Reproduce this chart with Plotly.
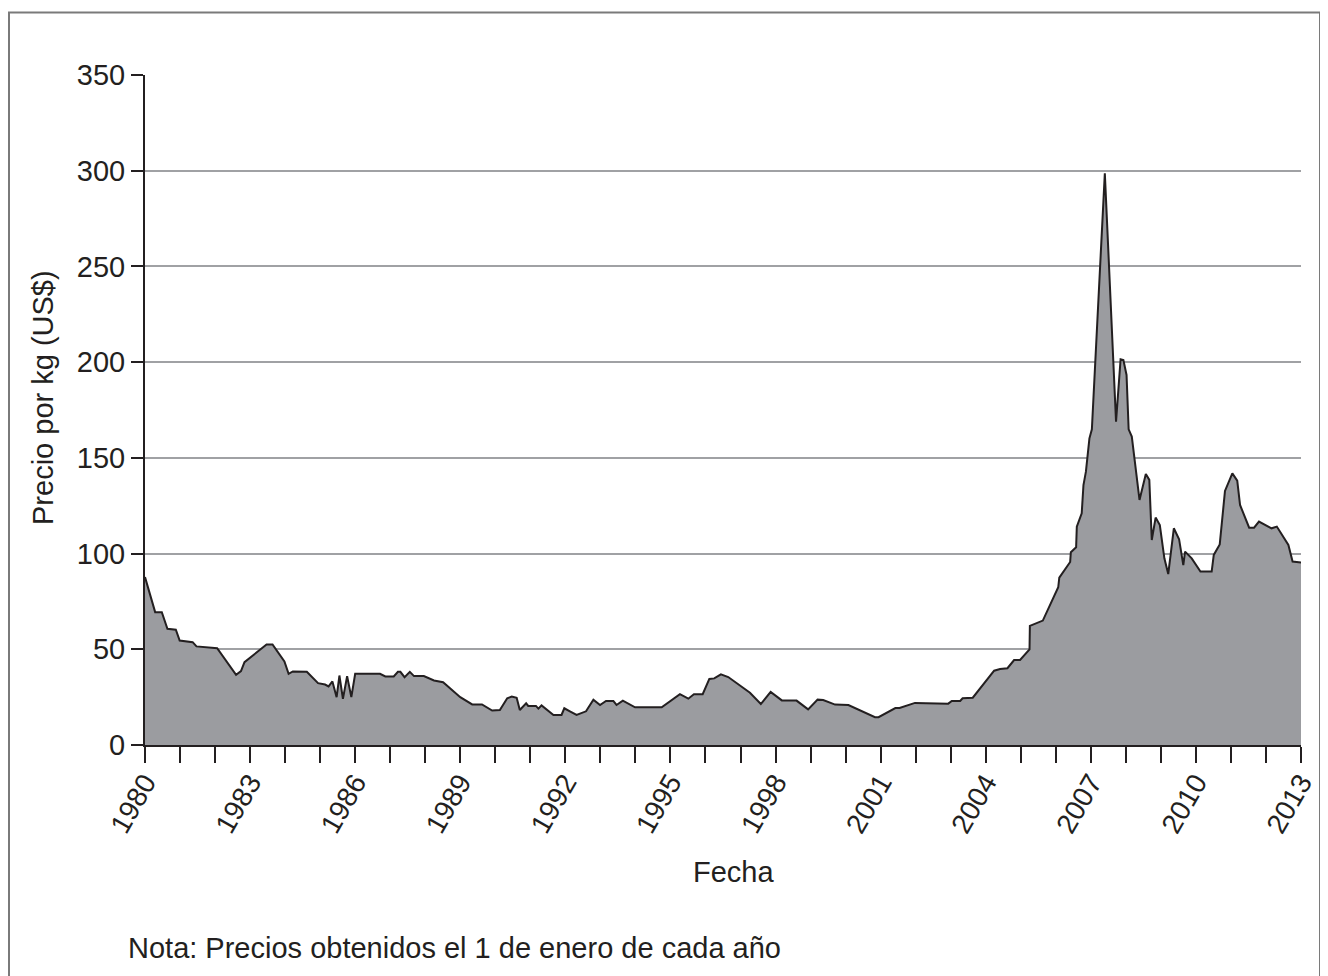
import plotly.graph_objects as go

# Data (decimal year, price per kg in US$)
years = [
    1980.00, 1980.29, 1980.48, 1980.64, 1980.88, 1980.99, 1981.36, 1981.47, 1982.06, 1982.60,
    1982.74, 1982.84, 1983.47, 1983.64, 1983.98, 1984.10, 1984.22, 1984.62, 1984.94, 1985.14,
    1985.24, 1985.35, 1985.47, 1985.55, 1985.65, 1985.77, 1985.89, 1986.00, 1986.71, 1986.86,
    1987.10, 1987.22, 1987.29, 1987.41, 1987.56, 1987.68, 1987.96, 1988.25, 1988.51, 1989.00,
    1989.34, 1989.62, 1989.91, 1990.13, 1990.34, 1990.47, 1990.61, 1990.70, 1990.88, 1990.94,
    1991.16, 1991.23, 1991.32, 1991.66, 1991.89, 1991.97, 1992.13, 1992.32, 1992.59, 1992.80,
    1992.99, 1993.16, 1993.37, 1993.46, 1993.64, 1993.99, 1994.75, 1995.27, 1995.51, 1995.67,
    1995.92, 1996.11, 1996.25, 1996.44, 1996.65, 1997.27, 1997.58, 1997.86, 1998.18, 1998.60,
    1998.93, 1999.20, 1999.36, 1999.70, 2000.08, 2000.84, 2000.94, 2001.42, 2001.54, 2001.98,
    2002.93, 2003.03, 2003.27, 2003.34, 2003.63, 2003.84, 2004.03, 2004.24, 2004.41, 2004.62,
    2004.81, 2004.98, 2005.25, 2005.26, 2005.63, 2006.07, 2006.10, 2006.41, 2006.43, 2006.58,
    2006.60, 2006.74, 2006.79, 2006.86, 2006.96, 2007.03, 2007.40, 2007.72, 2007.85, 2007.93,
    2008.02, 2008.08, 2008.17, 2008.39, 2008.57, 2008.67, 2008.74, 2008.85, 2008.97, 2009.10,
    2009.21, 2009.37, 2009.52, 2009.64, 2009.69, 2009.88, 2010.13, 2010.45, 2010.51, 2010.68,
    2010.83, 2011.04, 2011.18, 2011.26, 2011.52, 2011.66, 2011.80, 2012.16, 2012.31, 2012.64,
    2012.76, 2013.00,
]
prices = [
    87.7, 69.4, 69.4, 60.7, 60.2, 54.6, 53.7, 51.5, 50.6, 36.7,
    38.6, 43.3, 52.5, 52.5, 43.6, 37.2, 38.4, 38.3, 32.3, 31.6,
    30.6, 33.2, 25.0, 36.3, 24.1, 36.0, 25.0, 37.2, 37.2, 35.8,
    35.8, 38.2, 38.2, 35.4, 38.2, 36.0, 36.0, 33.7, 32.8, 25.0,
    21.2, 21.2, 18.0, 18.3, 24.4, 25.3, 24.7, 18.3, 21.8, 20.4,
    20.4, 19.0, 20.7, 15.7, 15.7, 19.2, 17.6, 15.7, 17.6, 23.7,
    20.9, 23.0, 23.0, 20.9, 23.2, 19.7, 19.7, 26.6, 24.2, 26.5,
    26.5, 34.5, 34.8, 36.9, 35.5, 27.3, 21.4, 27.7, 23.3, 23.2,
    18.6, 23.7, 23.5, 21.1, 20.9, 14.5, 14.5, 19.3, 19.3, 22.0,
    21.6, 23.0, 23.0, 24.4, 24.7, 29.6, 34.0, 38.8, 39.7, 40.1,
    44.4, 44.4, 50.0, 62.2, 65.0, 82.4, 87.4, 95.6, 100.7, 103.3,
    114.1, 121.0, 135.8, 142.8, 160.2, 164.9, 298.7, 168.9, 201.5, 201.1,
    193.3, 164.9, 161.1, 128.0, 141.6, 138.5, 107.1, 118.8, 114.9, 97.5,
    89.3, 113.2, 107.5, 94.0, 101.0, 97.5, 90.6, 90.6, 99.3, 104.8,
    132.7, 141.9, 138.1, 125.4, 113.5, 113.5, 116.7, 113.2, 114.1, 104.5,
    95.8, 95.4,
]

tick_years = list(range(1980, 2014, 3))
y_ticks = [0, 50, 100, 150, 200, 250, 300, 350]

x_title = "Fecha"
y_title = "Precio por kg (US$)"
note = "Nota: Precios obtenidos el 1 de enero de cada año"

DARK = "#231f20"
FONT = "Liberation Sans, Arial, Helvetica, sans-serif"
FS = 29

# page pixel -> paper coordinates (plot area spans x 145..1301, y 75..745 on the page)
def px(x):
    return (x - 145) / 1156

def py(y):
    return (745 - y) / 670

fig = go.Figure()
fig.add_trace(go.Scatter(
    x=years, y=prices, mode="lines", fill="tozeroy",
    fillcolor="#9b9ca0", line=dict(color=DARK, width=2),
    hoverinfo="x+y", showlegend=False,
))

fig.update_layout(
    width=1320, height=968,
    margin=dict(l=137, r=27, t=67, b=231, autoexpand=False),
    paper_bgcolor="white", plot_bgcolor="white",
    font=dict(family=FONT, size=FS, color=DARK),
    xaxis=dict(
        range=[1980, 2013], tickmode="array", tickvals=tick_years,
        ticktext=[str(t) for t in tick_years], tickangle=-60,
        ticks="outside", ticklen=16, tickwidth=2, tickcolor=DARK,
        ticklabelstandoff=-8, automargin=False,
        showline=True, linecolor=DARK, linewidth=2,
        showgrid=False, zeroline=False,
        minor=dict(dtick=1, tick0=1980, ticks="outside", ticklen=16,
                   tickwidth=2, tickcolor=DARK, showgrid=False),
        tickfont=dict(size=28, color=DARK),
    ),
    yaxis=dict(
        range=[0, 350], tickmode="array", tickvals=y_ticks,
        ticks="outside", ticklen=12, tickwidth=2, tickcolor=DARK,
        automargin=False,
        showline=True, linecolor=DARK, linewidth=2,
        showgrid=True, gridcolor="#a0a1a4", gridwidth=2,
        zeroline=False, tickfont=dict(size=FS, color=DARK),
    ),
    shapes=[dict(
        type="rect", xref="paper", yref="paper",
        x0=px(9), x1=px(1320), y0=py(990), y1=py(12.5),
        line=dict(color="#7a7a7a", width=2), fillcolor="rgba(0,0,0,0)",
        layer="below",
    )],
    annotations=[
        dict(text=x_title, xref="paper", yref="paper",
             x=px(733), y=py(872),
             xanchor="center", yanchor="middle", showarrow=False,
             font=dict(size=FS, color=DARK)),
        dict(text=y_title, xref="paper", yref="paper", textangle=-90,
             x=px(43), y=py(398),
             xanchor="center", yanchor="middle", showarrow=False,
             font=dict(size=FS, color=DARK)),
        dict(text=note, xref="paper", yref="paper",
             x=px(126), y=py(948),
             xanchor="left", yanchor="middle", showarrow=False,
             font=dict(size=FS, color=DARK)),
    ],
)

fig.write_html("out.html")
